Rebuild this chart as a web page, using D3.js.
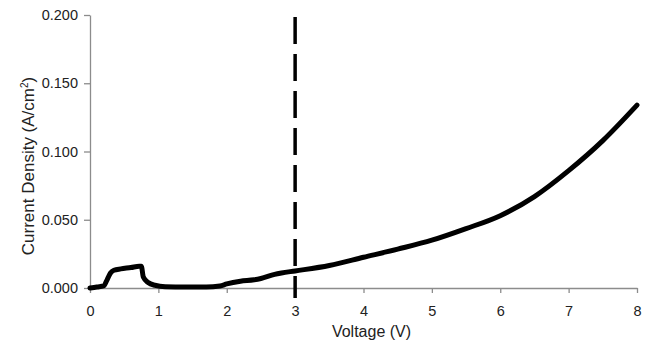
<!DOCTYPE html>
<html>
<head>
<meta charset="utf-8">
<script src="https://cdn.jsdelivr.net/npm/d3@7"></script>
<style>
  body { margin: 0; background: #fff; }
  svg { display: block; font-family: "Liberation Sans", Arial, sans-serif; }
  .axis path, .axis line { stroke: #8c8c8c; stroke-width: 1.3; }
  .axis text { fill: #222; font-size: 14.5px; }
</style>
</head>
<body>
<div id="chart"></div>
<script>
// Voltage (V) and current density (A/cm^2)
const voltage = [0, 0.1, 0.2, 0.25, 0.3, 0.35, 0.45, 0.6, 0.72, 0.75, 0.78, 0.85, 0.95, 1.1, 1.4, 1.7, 1.9,
  2.0, 2.2, 2.4, 2.5, 2.7, 2.8, 3.0, 3.5, 4.0, 4.5, 5.0, 5.5, 6.0, 6.5, 7.0, 7.5, 8.0];
const currentDensity = [0, 0.0008, 0.0015, 0.006, 0.011, 0.013, 0.014, 0.015, 0.016, 0.016, 0.008, 0.004,
  0.002, 0.001, 0.0008, 0.0008, 0.0015, 0.003, 0.005, 0.006, 0.007, 0.010, 0.011, 0.0125, 0.0165,
  0.0225, 0.0285, 0.035, 0.0435, 0.053, 0.067, 0.086, 0.108, 0.134];
const xTicks = [0, 1, 2, 3, 4, 5, 6, 7, 8];
const yTicks = [0, 0.05, 0.1, 0.15, 0.2];
const markerVoltage = 3;

const width = 654;
const height = 352;
const margin = { top: 15, right: 17, bottom: 64, left: 90 };

const svg = d3.select("#chart")
  .append("svg")
  .attr("width", width)
  .attr("height", height);

const x = d3.scaleLinear()
  .domain([0, 8])
  .range([margin.left, width - margin.right]);

const y = d3.scaleLinear()
  .domain([0, 0.2])
  .range([height - margin.bottom, margin.top]);

// Axes
svg.append("g")
  .attr("class", "axis")
  .attr("transform", `translate(0,${y(0)})`)
  .call(d3.axisBottom(x).tickValues(xTicks).tickFormat(d3.format("d")).tickSize(5).tickPadding(13).tickSizeOuter(0));

svg.append("g")
  .attr("class", "axis")
  .attr("transform", `translate(${x(0)},0)`)
  .call(d3.axisLeft(y).tickValues(yTicks).tickFormat(d3.format(".3f")).tickSize(6).tickPadding(6).tickSizeOuter(0));

// Data line
const data = voltage.map((v, i) => ({ v: v, j: currentDensity[i] }));

svg.append("path")
  .datum(data)
  .attr("fill", "none")
  .attr("stroke", "#000")
  .attr("stroke-width", 5)
  .attr("stroke-linejoin", "round")
  .attr("stroke-linecap", "round")
  .attr("d", d3.line()
    .x(d => x(d.v))
    .y(d => y(d.j))
    .curve(d3.curveMonotoneX));

// Dashed marker at 3 V
svg.append("line")
  .attr("x1", x(markerVoltage))
  .attr("x2", x(markerVoltage))
  .attr("y1", y(0.2) + 2)
  .attr("y2", y(0) + 10)
  .attr("stroke", "#000")
  .attr("stroke-width", 3.5)
  .attr("stroke-dasharray", "27,10");

// Axis titles
svg.append("text")
  .attr("x", (x(0) + x(8)) / 2 + 8)
  .attr("y", 337)
  .attr("text-anchor", "middle")
  .style("font-size", "16px")
  .style("fill", "#222")
  .text("Voltage (V)");

const yTitle = svg.append("text")
  .attr("transform", `translate(34,166) rotate(-90)`)
  .attr("text-anchor", "middle")
  .style("font-size", "17px")
  .style("fill", "#222");
yTitle.append("tspan").text("Current Density (A/cm");
yTitle.append("tspan").attr("dy", -6).style("font-size", "10px").text("2");
yTitle.append("tspan").attr("dy", 6).text(")");
</script>
</body>
</html>
